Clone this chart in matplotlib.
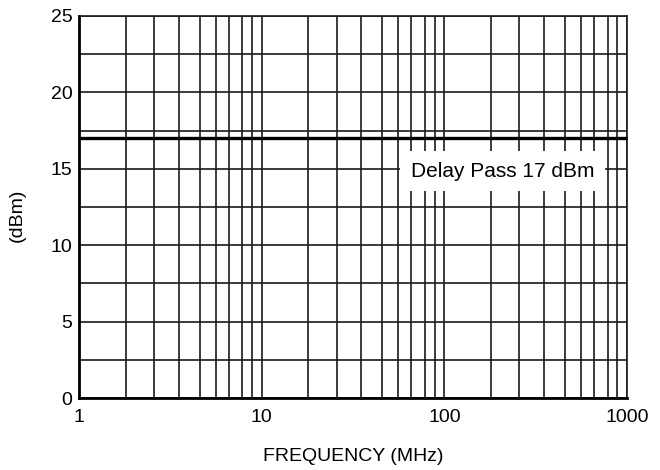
import matplotlib
matplotlib.use("Agg")
import matplotlib.pyplot as plt
from matplotlib.ticker import FixedLocator, NullFormatter

plt.rcParams['font.family'] = ['Liberation Sans', 'DejaVu Sans']

freq_mhz = [1, 1000]
delay_pass_dbm = [17, 17]
x_ticks = [1, 10, 100, 1000]
x_tick_labels = ["1", "10", "100", "1000"]
y_ticks = [0, 5, 10, 15, 20, 25]
y_minor = [2.5, 7.5, 12.5, 17.5, 22.5]
# grid divisions within each decade, as drawn on the reference chart paper
decade_divs = [1.8, 2.57, 3.5, 4.56, 5.6, 6.6, 7.83, 8.87]
label_text = "Delay Pass 17 dBm"

fig = plt.figure(figsize=(6.6, 4.7), dpi=100)
ax = fig.add_axes([0.120, 0.153, 0.830, 0.813])
ax.set_xscale('log')
ax.set_xlim(1, 1000)
ax.set_ylim(0, 25)

minor_x = [m * 10**d for d in range(3) for m in decade_divs]
ax.xaxis.set_major_locator(FixedLocator(x_ticks))
ax.xaxis.set_minor_locator(FixedLocator(minor_x))
ax.xaxis.set_minor_formatter(NullFormatter())
ax.set_xticklabels(x_tick_labels)
ax.yaxis.set_major_locator(FixedLocator(y_ticks))
ax.yaxis.set_minor_locator(FixedLocator(y_minor))

ax.grid(True, which='both', color='#1a1a1a', linewidth=1.2)
ax.tick_params(which='both', length=0, labelsize=14, colors='black')
ax.tick_params(axis='x', pad=8)
ax.tick_params(axis='y', pad=5)

for s in ['left', 'bottom']:
    ax.spines[s].set_linewidth(2.0)
    ax.spines[s].set_color('black')
for s in ['top', 'right']:
    ax.spines[s].set_linewidth(1.2)
    ax.spines[s].set_color('#1a1a1a')

ax.plot(freq_mhz, delay_pass_dbm, color='black', linewidth=2.4, solid_capstyle='butt', clip_on=False, zorder=3)

ax.text(208, 14.84, label_text, ha='center', va='center', fontsize=15, zorder=4,
        bbox=dict(facecolor='white', edgecolor='none', pad=7.5))

ax.set_xlabel("FREQUENCY (MHz)", fontsize=14, labelpad=16)
ax.set_ylabel("(dBm)", fontsize=14)
ax.yaxis.set_label_coords(-0.098, 0.479)

fig.savefig("out.png", dpi=100)
